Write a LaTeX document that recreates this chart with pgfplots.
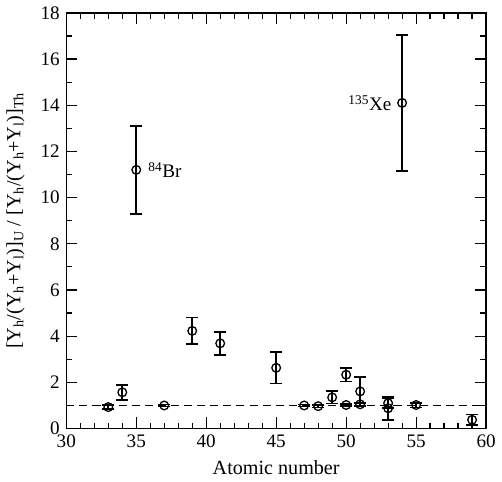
\documentclass[border=0pt]{standalone}
\usepackage{fontspec}
\setmainfont{Liberation Serif}
\usepackage{pgfplots}
\pgfplotsset{compat=1.18}

\pgfplotstableread{
z    y     e
33   0.93  0.08
34   1.57  0.32
37   1.00  0.05
39   4.23  0.58
41   3.69  0.50
45   2.63  0.68
47   1.00  0.05
48   0.97  0.06
49   1.35  0.27
50   2.33  0.30
50   1.02  0.05
51   1.61  0.62
51   1.05  0.05
53   1.10  0.22
53   0.88  0.50
55   1.02  0.10
59   0.38  0.23
35   11.20 1.90
54   14.10 2.95
}\ratios

\begin{document}
\fontsize{19}{21}\selectfont
\begin{tikzpicture}
\begin{axis}[
  scale only axis, width=417pt, height=413pt,
  xmin=30, xmax=60, ymin=0, ymax=18,
  xtick={30,35,...,60}, ytick={0,2,...,18},
  xticklabel={\pgfmathtruncatemacro\t{\tick}\t},
  yticklabel={\pgfmathtruncatemacro\t{\tick}\t},
  minor x tick num=4, minor y tick num=1,
  tick align=inside, major tick length=11pt, minor tick length=6pt,
  tick style={line width=1.2pt, black},
  axis line style={line width=1.4pt},
  tick label style={font=\fontsize{19}{21}\selectfont},
  xlabel={Atomic number},
  ylabel={[Y\textsubscript{h}/(Y\textsubscript{h}+Y\textsubscript{l})]\textsubscript{U} / [Y\textsubscript{h}/(Y\textsubscript{h}+Y\textsubscript{l})]\textsubscript{Th}},
  label style={font=\fontsize{20}{22}\selectfont},
  ylabel style={yshift=3pt},
]
\addplot[black, line width=1.2pt, dash pattern=on 8pt off 5pt] coordinates {(30,1) (60,1)};
\addplot[black, only marks, mark=o, mark size=4.3pt, line width=1.3pt,
  error bars/.cd, y dir=both, y explicit,
  error bar style={line width=1.6pt}, error mark options={rotate=90, mark size=6pt, line width=1.6pt}]
  table[x=z, y=y, y error=e] {\ratios};
\node[anchor=west] at (axis cs:35.4,11.2) {\textsuperscript{84}Br};
\node[anchor=east] at (axis cs:53.7,14.1) {\textsuperscript{135}Xe};
\end{axis}
\end{tikzpicture}
\end{document}
